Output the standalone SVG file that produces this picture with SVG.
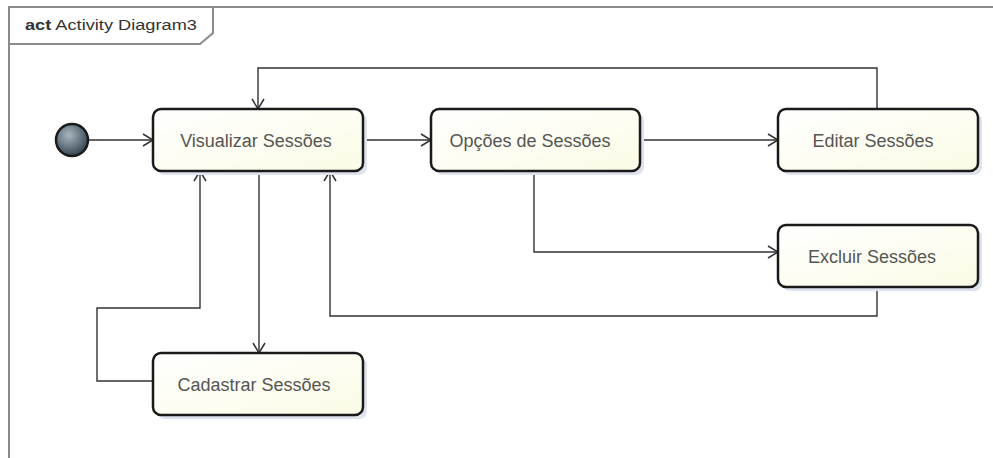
<svg xmlns="http://www.w3.org/2000/svg" width="993" height="458" viewBox="0 0 993 458">
<defs>
<linearGradient id="boxfill" x1="0" y1="0" x2="1" y2="1">
<stop offset="0" stop-color="#ffffff"/>
<stop offset="1" stop-color="#fbfbe6"/>
</linearGradient>
<radialGradient id="initfill" cx="0.4" cy="0.35" r="0.7">
<stop offset="0" stop-color="#a9b6bf"/>
<stop offset="0.6" stop-color="#5f6f7a"/>
<stop offset="1" stop-color="#323e48"/>
</radialGradient>
<marker id="arr" viewBox="0 0 12 14" refX="11" refY="7" markerWidth="12" markerHeight="14" markerUnits="userSpaceOnUse" orient="auto">
<path d="M1,1 L11,7 L1,13" fill="none" stroke="#333" stroke-width="1.5"/>
</marker>
</defs>
<style>
.frame{fill:none;stroke:#8a8a8a;stroke-width:2}
.node rect.shadow{fill:#dfe3ee;stroke:none}
.node rect.box{fill:url(#boxfill);stroke:#1a1a1a;stroke-width:2.5}
.node text{font-family:"Liberation Sans",Arial,sans-serif;font-size:18px;fill:#555;text-anchor:middle}
.edge{fill:none;stroke:#333;stroke-width:1.4;marker-end:url(#arr)}
.title{font-family:"Liberation Sans",Arial,sans-serif;font-size:14px;fill:#333}
</style>
<rect width="993" height="458" fill="#ffffff"/>
<g id="frame">
<path class="frame" d="M9,458 L9,7 L993,7"/>
<path class="frame" d="M9,44 L200,44 L213,33 L213,7"/>
<text class="title" x="25" y="30" textLength="172" lengthAdjust="spacingAndGlyphs"><tspan font-weight="bold">act</tspan> Activity Diagram3</text>
</g>
<g id="connectors">
<path class="edge" d="M89,140 L153,140"/>
<path class="edge" d="M363,140 L431,140"/>
<path class="edge" d="M640,140 L778,140"/>
<path class="edge" d="M877,109 L877,68 L258,68 L258,109"/>
<path class="edge" d="M534,171 L534,252 L778,252"/>
<path class="edge" d="M877,287 L877,316 L330,316 L330,171"/>
<path class="edge" d="M259,171 L259,353"/>
<path class="edge" d="M153,381 L97,381 L97,308 L200,308 L200,171"/>
</g>
<g id="initial">
<circle cx="72" cy="140" r="16" fill="url(#initfill)" stroke="#1a1a1a" stroke-width="2.5"/>
</g>
<g id="visualizar" class="node">
<rect class="shadow" x="157" y="113" width="210" height="62" rx="8"/>
<rect class="box" x="153" y="109" width="210" height="62" rx="8"/>
<text x="256" y="147">Visualizar Sessões</text>
</g>
<g id="opcoes" class="node">
<rect class="shadow" x="435" y="113" width="209" height="62" rx="8"/>
<rect class="box" x="431" y="109" width="209" height="62" rx="8"/>
<text x="530" y="147">Opções de Sessões</text>
</g>
<g id="editar" class="node">
<rect class="shadow" x="782" y="113" width="200" height="62" rx="8"/>
<rect class="box" x="778" y="109" width="200" height="62" rx="8"/>
<text x="873" y="147">Editar Sessões</text>
</g>
<g id="excluir" class="node">
<rect class="shadow" x="782" y="229" width="200" height="62" rx="8"/>
<rect class="box" x="778" y="225" width="200" height="62" rx="8"/>
<text x="872" y="263">Excluir Sessões</text>
</g>
<g id="cadastrar" class="node">
<rect class="shadow" x="157" y="357" width="210" height="62" rx="8"/>
<rect class="box" x="153" y="353" width="210" height="62" rx="8"/>
<text x="254" y="391">Cadastrar Sessões</text>
</g>
</svg>
